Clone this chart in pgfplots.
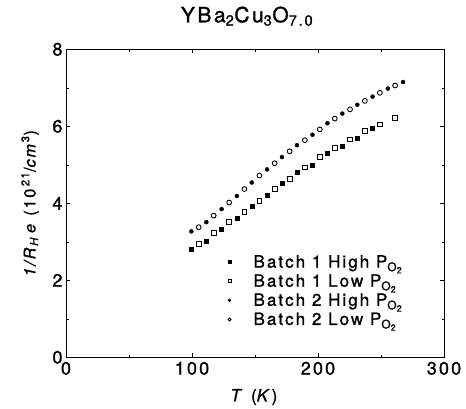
\documentclass[border=0pt]{standalone}
\usepackage{pgfplots}
\pgfplotsset{compat=1.18}
\usepackage{fontspec}
\setmainfont{TeX Gyre Heros}[LetterSpace=12, FakeBold=1.2]
\newcommand{\POt}{P\raisebox{-0.4ex}{\fontsize{12}{12}\selectfont O\raisebox{-0.35ex}{\fontsize{9}{9}\selectfont 2}}}
\pgfplotsset{mylegend/.style={legend image code/.code={\path[draw=none,fill=none] (0pt,-1pt) rectangle (30pt,1pt);\draw[mark repeat=2,mark phase=2,##1] plot coordinates {(0pt,0pt)(8pt,0pt)(30pt,0pt)};}}}
\begin{document}
\begin{tikzpicture}[x=1pt,y=1pt]
\useasboundingbox (0,0) rectangle (466,408);
\begin{axis}[
  at={(66pt,50.7pt)}, anchor=south west,
  width=378pt, height=308pt, scale only axis,
  xmin=0, xmax=300, ymin=0, ymax=8,
  xtick={0,100,200,300}, ytick={0,2,4,6,8},
  minor x tick num=1, minor y tick num=1,
  tick align=inside,
  major tick length=4pt, minor tick length=2.5pt,
  axis line style={line width=0.9pt},
  every tick/.style={line width=0.5pt, black},
  /pgf/number format/assume math mode=true,
  ticklabel style={font=\fontsize{18}{20}\selectfont},
  xticklabel style={yshift=-1pt},
  title={YBa\textsubscript{2}Cu\textsubscript{3}O\textsubscript{7.0}},
  title style={font=\fontsize{21}{23}\selectfont, at={(axis description cs:0.479,1)}, anchor=base, yshift=21pt},
  xlabel={\textit{T} (\textit{K})},
  xlabel style={font=\fontsize{17}{19}\selectfont, at={(axis description cs:0.497,-0.129)}, anchor=center},
  ylabel={\textit{1/R}\textsubscript{\textit{H}}\,\textit{e} (10\,\textsuperscript{21}/\textit{cm}\textsuperscript{3})},
  ylabel style={font=\fontsize{16}{18}\selectfont, at={(axis description cs:-0.095,0.5)}, anchor=center},
  legend style={draw=none, fill=none, font=\fontsize{17}{19}\selectfont, at={(axis description cs:0.403,0.345)}, anchor=north west, row sep=1.2pt},
  legend cell align=left,
  legend image post style={mark size=1.5pt},
]
\addplot[only marks, mylegend, mark=square*, mark size=2pt, black] coordinates {
(99.5,2.81)(111.4,3.02)(123.5,3.32)(135.6,3.62)(147.4,3.92)(159.6,4.22)(171.4,4.51)(183.3,4.81)(195.6,4.99)(207.5,5.29)(219.3,5.49)(231.2,5.68)(243.3,5.94)};
\addlegendentry{Batch 1 High \POt}
\addplot[only marks, mylegend, mark=square, mark size=2.4pt, black, mark options={line width=0.9pt}] coordinates {
(105.3,2.95)(117.2,3.22)(129.5,3.51)(141.6,3.78)(153.5,4.07)(165.6,4.37)(177.5,4.63)(189.6,4.93)(201.4,5.20)(213.3,5.44)(225.4,5.66)(237.2,5.88)(249.1,6.05)(261.2,6.22)};
\addlegendentry{Batch 1 Low \POt}
\addplot[only marks, mylegend, mark=*, mark size=2pt, black] coordinates {
(99.5,3.27)(111.4,3.51)(123.5,3.85)(135.6,4.19)(147.4,4.54)(159.6,4.88)(171.4,5.20)(183.3,5.51)(195.6,5.78)(207.5,6.08)(219.3,6.33)(231.2,6.56)(243.3,6.77)(255.4,6.98)(267.5,7.15)};
\addlegendentry{Batch 2 High \POt}
\addplot[only marks, mylegend, mark=o, mark size=2.4pt, black, mark options={line width=0.9pt}] coordinates {
(105.3,3.38)(117.2,3.68)(129.5,4.02)(141.6,4.37)(153.5,4.72)(165.6,5.04)(177.5,5.35)(189.6,5.64)(201.4,5.92)(213.3,6.20)(225.4,6.44)(237.2,6.66)(249.1,6.87)(261.2,7.06)};
\addlegendentry{Batch 2 Low \POt}
\end{axis}
\end{tikzpicture}
\end{document}
